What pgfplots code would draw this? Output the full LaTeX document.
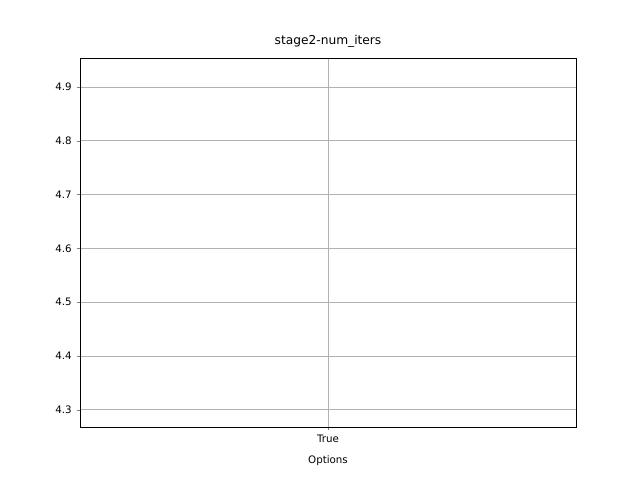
\documentclass[border=0pt]{standalone}
\usepackage{pgfplots}
\pgfplotsset{compat=1.18}
\usepgfplotslibrary{statistics}
\usepackage{fontspec}
\setmainfont{DejaVu Sans}
\definecolor{med}{HTML}{FF7F0E}
\begin{document}
\begin{tikzpicture}
\useasboundingbox (-57.6pt,-38.16pt) rectangle (403.2pt,307.44pt);
\begin{axis}[
  at={(0,0)}, anchor=south west,
  scale only axis, width=357.12pt, height=265.68pt,
  xmin=0.5, xmax=1.5, ymin=4.268, ymax=4.954,
  xtick={1}, xticklabels={True},
  ytick={4.3,4.4,4.5,4.6,4.7,4.8,4.9},
  yticklabel style={/pgf/number format/fixed,/pgf/number format/precision=1,/pgf/number format/fixed zerofill},
  /pgf/number format/assume math mode=true,
  tick align=outside, tick pos=left, major tick length=2.5pt,
  grid=major, grid style={gray!60, line width=0.5pt},
  ticklabel style={font=\fontsize{7.4}{8}\selectfont},
  xlabel={Options}, xlabel style={font=\fontsize{7.4}{8}\selectfont, yshift=-2pt},
  title={stage2-num\_iters}, title style={font=\fontsize{8.8}{10}\selectfont, yshift=-2pt},
  axis line style={line width=0.6pt},
]
\addplot+[black, line width=0.7pt, solid,
  mark=o, mark size=2.3pt, mark options={black, solid, fill=none},
  boxplot prepared={draw position=1, lower whisker=4.30, lower quartile=4.367,
    median=4.480, upper quartile=4.530, upper whisker=4.707,
    box extend=0.15, whisker extend=0.075,
    every median/.style={draw=med, line width=0.7pt}},
] coordinates {(1,4.924) (1,4.907)};
\end{axis}
\end{tikzpicture}
\end{document}
